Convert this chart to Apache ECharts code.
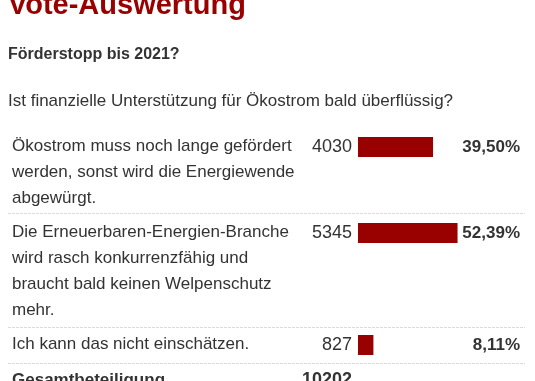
<!DOCTYPE html>
<html>
<head>
<meta charset="utf-8">
<script src="https://cdn.jsdelivr.net/npm/echarts@6/dist/echarts.min.js"></script>
<style>
  html, body { margin: 0; padding: 0; background: #fff; }
  #main { width: 535px; height: 381px; }
</style>
</head>
<body>
<div id="main"></div>
<script>
// ---- data ----
const titleText = 'Vote-Auswertung';
const subtitleText = 'Förderstopp bis 2021?';
const questionText = 'Ist finanzielle Unterstützung für Ökostrom bald überflüssig?';
const categories = [
  'Ökostrom muss noch lange gefördert\nwerden, sonst wird die Energiewende\nabgewürgt.',
  'Die Erneuerbaren-Energien-Branche\nwird rasch konkurrenzfähig und\nbraucht bald keinen Welpenschutz\nmehr.',
  'Ich kann das nicht einschätzen.'
];
const votes = [4030, 5345, 827];
const percents = [39.50, 52.39, 8.11];
const totalLabel = 'Gesamtbeteiligung';
const totalVotes = 10202;

// ---- layout ----
const barTops = [137, 223, 335];
const separatorYs = [213.5, 327.5, 363.5];
const gridLeft = 358;
const gridWidth = 177;          // up to the right edge of the canvas
const pxPerPercent = 1.9;       // full 100 % would be 190 px wide
const axisMax = gridWidth / pxPerPercent;
const fam = '"Liberation Sans", Arial, sans-serif';
const textColor = '#333333';
const red = '#990000';

const fmtPct = v => v.toFixed(2).replace('.', ',') + '%';

const chart = echarts.init(document.getElementById('main'), null, { renderer: 'canvas' });

const grids = categories.map((c, i) => ({ left: gridLeft, top: barTops[i], width: gridWidth, height: 20 }));
const xAxes = categories.map((c, i) => ({ gridIndex: i, type: 'value', min: 0, max: axisMax, show: false }));
const yAxes = [];
categories.forEach((c, i) => {
  yAxes.push({
    gridIndex: i, type: 'category', data: [c], position: 'left',
    axisLine: { show: false }, axisTick: { show: false }, splitLine: { show: false },
    axisLabel: {
      formatter: () => String(votes[i]), margin: 6, color: textColor,
      fontSize: 18, fontFamily: fam, padding: [0, 0, 3, 0]
    }
  });
  yAxes.push({
    gridIndex: i, type: 'category', data: [c], position: 'right',
    axisLine: { show: false }, axisTick: { show: false }, splitLine: { show: false },
    axisLabel: {
      formatter: () => fmtPct(percents[i]), margin: -15, align: 'right', color: textColor,
      fontSize: 17, fontWeight: 'bold', fontFamily: fam, padding: [0, 0, 3, 0]
    }
  });
});

const series = categories.map((c, i) => ({
  type: 'bar', xAxisIndex: i, yAxisIndex: 2 * i, data: [percents[i]],
  barWidth: 20, itemStyle: { color: red }, silent: true,
  label: {
    show: true, position: [-346, -4], align: 'left', verticalAlign: 'top',
    formatter: () => c, lineHeight: 26,
    fontSize: 17, color: textColor, fontFamily: fam
  }
}));

const graphic = [
  { type: 'text', x: 8, y: 6, style: { text: titleText, fill: red, fontSize: 29, fontWeight: 'bold', fontFamily: fam, align: 'left', verticalAlign: 'middle' } },
  { type: 'text', x: 8, y: 54.5, style: { text: subtitleText, fill: textColor, fontSize: 16, fontWeight: 'bold', fontFamily: fam, align: 'left', verticalAlign: 'middle' } },
  { type: 'text', x: 8, y: 101, style: { text: questionText, fill: textColor, fontSize: 17, fontFamily: fam, align: 'left', verticalAlign: 'middle' } },
  { type: 'text', x: 12, y: 380, style: { text: totalLabel, fill: textColor, fontSize: 17, fontWeight: 'bold', fontFamily: fam, align: 'left', verticalAlign: 'middle' } },
  { type: 'text', x: 352, y: 380, style: { text: String(totalVotes), fill: textColor, fontSize: 18, fontWeight: 'bold', fontFamily: fam, align: 'right', verticalAlign: 'middle' } }
].concat(separatorYs.map(y => ({
  type: 'line', shape: { x1: 8, y1: y, x2: 525, y2: y },
  style: { stroke: '#dadada', lineWidth: 1, lineDash: [3, 1] }
})));

chart.setOption({
  backgroundColor: '#ffffff',
  animation: false,
  grid: grids,
  xAxis: xAxes,
  yAxis: yAxes,
  series: series,
  graphic: graphic
});
</script>
</body>
</html>
